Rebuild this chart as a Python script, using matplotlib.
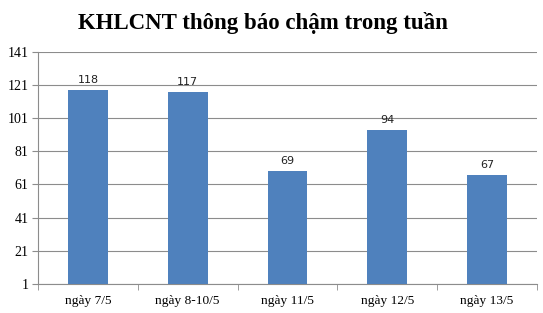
import matplotlib.pyplot as plt
import numpy as np

categories = ['ngày 7/5', 'ngày 8-10/5', 'ngày 11/5', 'ngày 12/5', 'ngày 13/5']
values = [118, 117, 69, 94, 67]
yticks = [1, 21, 41, 61, 81, 101, 121, 141]

fig = plt.figure(figsize=(5.43, 3.13), dpi=100)
ax = fig.add_axes([0.07, 0.093, 0.919, 0.741])

x = np.arange(len(categories))
bars = ax.bar(x, values, width=0.4, color='#4F81BD', zorder=3)

for xi, v in zip(x, values):
    ax.text(xi, v + 3, str(v), ha='center', va='bottom', fontsize=8,
            family='DejaVu Sans', color='#222222')

ax.set_ylim(1, 141)
ax.set_xlim(-0.5, len(categories) - 0.5)
ax.set_yticks(yticks)
ax.set_yticklabels([str(t) for t in yticks], family='Liberation Serif', fontsize=10)
ax.yaxis.grid(True, color='#8c8c8c', linewidth=0.8, zorder=0)

# category labels centred, tick marks between categories
ax.set_xticks(x)
ax.set_xticklabels(categories, family='Liberation Serif', fontsize=9.6)
ax.tick_params(axis='x', length=0, pad=8)
ax.set_xticks(np.arange(len(categories) + 1) - 0.5, minor=True)
ax.tick_params(axis='x', which='minor', length=4, color='#8c8c8c')
ax.tick_params(axis='y', length=4, color='#8c8c8c', pad=3)

for s in ['top', 'right']:
    ax.spines[s].set_visible(False)
for s in ['left', 'bottom']:
    ax.spines[s].set_color('#8c8c8c')

fig.text(0.484, 0.928, 'KHLCNT thông báo chậm trong tuần', ha='center', va='center',
         family='Liberation Serif', fontweight='bold', fontsize=16.5)

fig.savefig('out.png', dpi=100)
